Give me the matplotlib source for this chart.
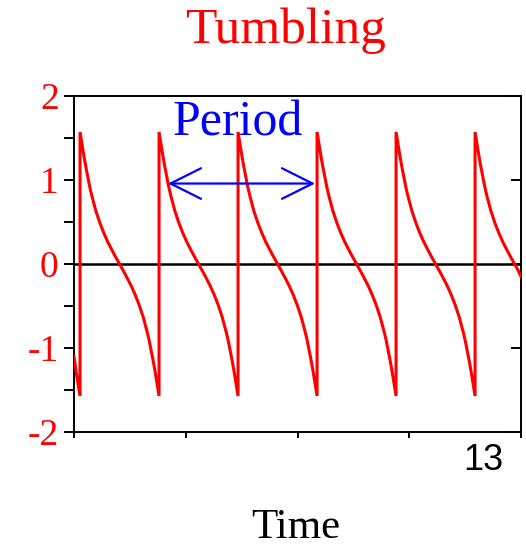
import matplotlib
matplotlib.use("Agg")
import matplotlib.pyplot as plt
from matplotlib.transforms import ScaledTranslation

# ---- data ----
# times at which the angle flips from -pi/2 to +pi/2
jump_times = [9.054, 9.761, 10.468, 11.175, 11.882, 12.589]
# shape of one tumbling cycle: time after the flip and the angle
cycle_offset = [0.000, 0.007, 0.014, 0.021, 0.035, 0.053, 0.071, 0.088, 0.106, 0.141,
                0.177, 0.212, 0.247, 0.283, 0.318, 0.354, 0.389, 0.424, 0.460, 0.495,
                0.530, 0.566, 0.601, 0.619, 0.636, 0.654, 0.672, 0.686, 0.693, 0.700, 0.707]
cycle_angle = [1.571, 1.512, 1.454, 1.396, 1.283, 1.149, 1.025, 0.912, 0.810, 0.635,
               0.491, 0.371, 0.266, 0.172, 0.085, 0.000, -0.085, -0.172, -0.266, -0.371,
               -0.491, -0.635, -0.810, -0.912, -1.025, -1.149, -1.283, -1.396, -1.454, -1.512, -1.571]
# partial cycle before the first flip and the end value at the right edge
lead_time = [9.000, 9.019, 9.033, 9.040, 9.047, 9.054]
lead_angle = [-1.10, -1.283, -1.396, -1.454, -1.512, -1.571]
t_start, t_end = 9.0, 13.0
end_angle = -0.15

x_ticks = [9, 10, 11, 12, 13]
x_tick_labels = ["", "", "", "", "13"]
y_major = [-2, -1, 0, 1, 2]
y_major_labels = ["-2", "-1", "0", "1", "2"]
y_minor = [-1.5, -0.5, 0.5, 1.5]
period_arrow = (9.841, 11.157, 0.958)

# assemble the curve from the read values
time = list(lead_time)
angle = list(lead_angle)
for t0 in jump_times:
    for dt, a in zip(cycle_offset, cycle_angle):
        t = t0 + dt
        if t > t_end:
            time.append(t_end)
            angle.append(end_angle)
            break
        time.append(t)
        angle.append(a)

SERIF = "Liberation Serif"

fig = plt.figure(figsize=(5.26, 5.49), dpi=100)
ax = fig.add_axes([74/526, 1-432/549, (521-74)/526, (432-96)/549])

ax.plot(time, angle, color="red", lw=2.2, solid_joinstyle="miter", zorder=3)
ax.axhline(0, color="black", lw=1.8, zorder=2)

ax.set_xlim(t_start, t_end)
ax.set_ylim(-2, 2)

for s in ax.spines.values():
    s.set_linewidth(1.4)
ax.spines["right"].set_visible(False)

ax.set_xticks(x_ticks)
ax.set_xticklabels(x_tick_labels, fontfamily="Liberation Sans", fontsize=26)
ax.tick_params(axis="x", direction="out", length=4, width=1.4, pad=4)
lab = ax.get_xticklabels()[-1]
lab.set_horizontalalignment("right")
lab.set_transform(lab.get_transform() + ScaledTranslation(-0.18, 0, fig.dpi_scale_trans))

ax.set_yticks(y_major + y_minor)
ax.set_yticklabels(y_major_labels + [""] * len(y_minor), fontfamily=SERIF,
                   fontsize=27, color="red", va="center_baseline")
ax.tick_params(axis="y", direction="out", length=7, width=1.4, pad=4, left=True, right=False)

sec = ax.secondary_yaxis("right")
sec.set_yticks(y_major)
sec.set_yticklabels([])
sec.tick_params(direction="in", length=7, width=1.4)
sec.spines["right"].set_linewidth(1.4)

ax.annotate("", xy=(period_arrow[0], period_arrow[2]), xytext=(period_arrow[1], period_arrow[2]),
            arrowprops=dict(arrowstyle="<->,head_length=1.1,head_width=0.55", color="blue",
                            lw=1.6, shrinkA=0, shrinkB=0, mutation_scale=20))
ax.text(10.463, 1.533, "Period", color="blue", fontfamily=SERIF, fontsize=36,
        ha="center", va="baseline")

fig.text(286/526, 1-43/549, "Tumbling", color="red", fontfamily=SERIF, fontsize=37,
         ha="center", va="baseline")
fig.text(296/526, 1-538/549, "Time", color="black", fontfamily=SERIF, fontsize=31,
         ha="center", va="baseline")

fig.savefig("out.png", dpi=100)
